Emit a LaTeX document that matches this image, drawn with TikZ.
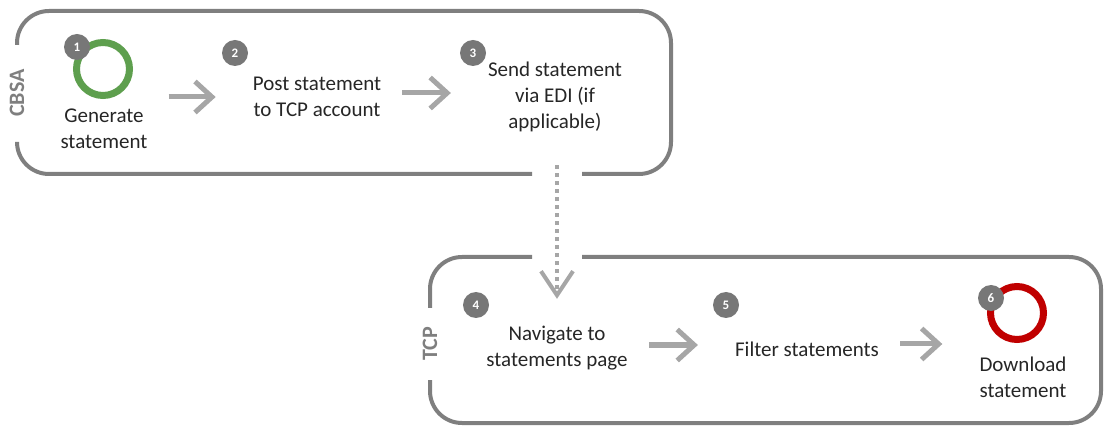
\documentclass[tikz,border=0pt]{standalone}
\usepackage{fontspec}
\setmainfont{Carlito}
\usetikzlibrary{arrows.meta,positioning}

\definecolor{lanegray}{HTML}{7F7F7F}
\definecolor{flowgray}{HTML}{A6A6A6}
\definecolor{badgegray}{HTML}{777777}
\definecolor{startgreen}{HTML}{5E9F4E}
\definecolor{endred}{HTML}{C00000}

\begin{document}
\begin{tikzpicture}[x=1pt,y=-1pt,
    lane/.style={draw=lanegray,line width=4pt,rounded corners=32pt},
    lanelabel/.style={text=lanegray,rotate=90,inner sep=0pt,font=\fontsize{22}{22}\selectfont\bfseries},
    task/.style={align=center,inner sep=0pt,text=black!85,font=\fontsize{21}{26}\selectfont},
    badge/.style={circle,fill=badgegray,minimum size=26pt,inner sep=0pt,text=white,font=\fontsize{13}{13}\selectfont\bfseries},
    event/.style={circle,line width=7pt,minimum size=53pt,inner sep=0pt},
    flow/.style={-{Straight Barb[length=17pt,width=31pt]},draw=flowgray,line width=5pt,shorten <=21pt,shorten >=37pt},
    handoff/.style={-{Straight Barb[length=24pt,width=32pt]},draw=flowgray,line width=4pt,dash pattern=on 4pt off 4pt,shorten <=33pt,shorten >=27pt}]
  \useasboundingbox (0,0) rectangle (1105,427);

  % swim lanes
  \node[lanelabel] (cbsa) at (17,93)  {CBSA};
  \node[lanelabel] (tcp)  at (430,344) {TCP};
  \draw[lane] (17,45) -- (17,11) -- (671,11) -- (671,174) -- (582,174);
  \draw[lane] (532,174) -- (17,174) -- (17,143);
  \draw[lane] (430,308) -- (430,257) -- (532,257);
  \draw[lane] (582,257) -- (1101,257) -- (1101,423) -- (430,423) -- (430,380);

  % steps
  \node[task] (s1) at (104,129)  {Generate\\statement};
  \node[task] (s2) at (317,97)   {Post statement\\to TCP account};
  \node[task] (s3) at (555,97)   {Send statement\\via EDI (if\\applicable)};
  \node[task] (s4) at (557,348)  {Navigate to\\statements page};
  \node[task] (s5) at (807,349)  {Filter statements};
  \node[task] (s6) at (1023,377) {Download\\statement};

  \node[event,draw=startgreen] (start) at (103,69)  {};
  \node[event,draw=endred]     (stop)  at (1017,313) {};

  \node[badge] (b1) at (77,47)   {1};
  \node[badge] (b2) at (235,53)  {2};
  \node[badge] (b3) at (473,53)  {3};
  \node[badge] (b4) at (476,305) {4};
  \node[badge] (b5) at (726,305) {5};
  \node[badge] (b6) at (991,298) {6};

  % connectors
  \draw[flow] (s1.east |- s2) -- (s2);
  \draw[flow] (s2.east |- 0,93) -- (s3.west |- 0,93);
  \draw[flow] (s4.east |- 0,345) -- (s5.west |- 0,345);
  \draw[flow] (s5.east |- 0,344) -- (s6.west |- 0,344);
  \draw[handoff] (s4 |- s3.south) -- (s4.north);
\end{tikzpicture}
\end{document}
